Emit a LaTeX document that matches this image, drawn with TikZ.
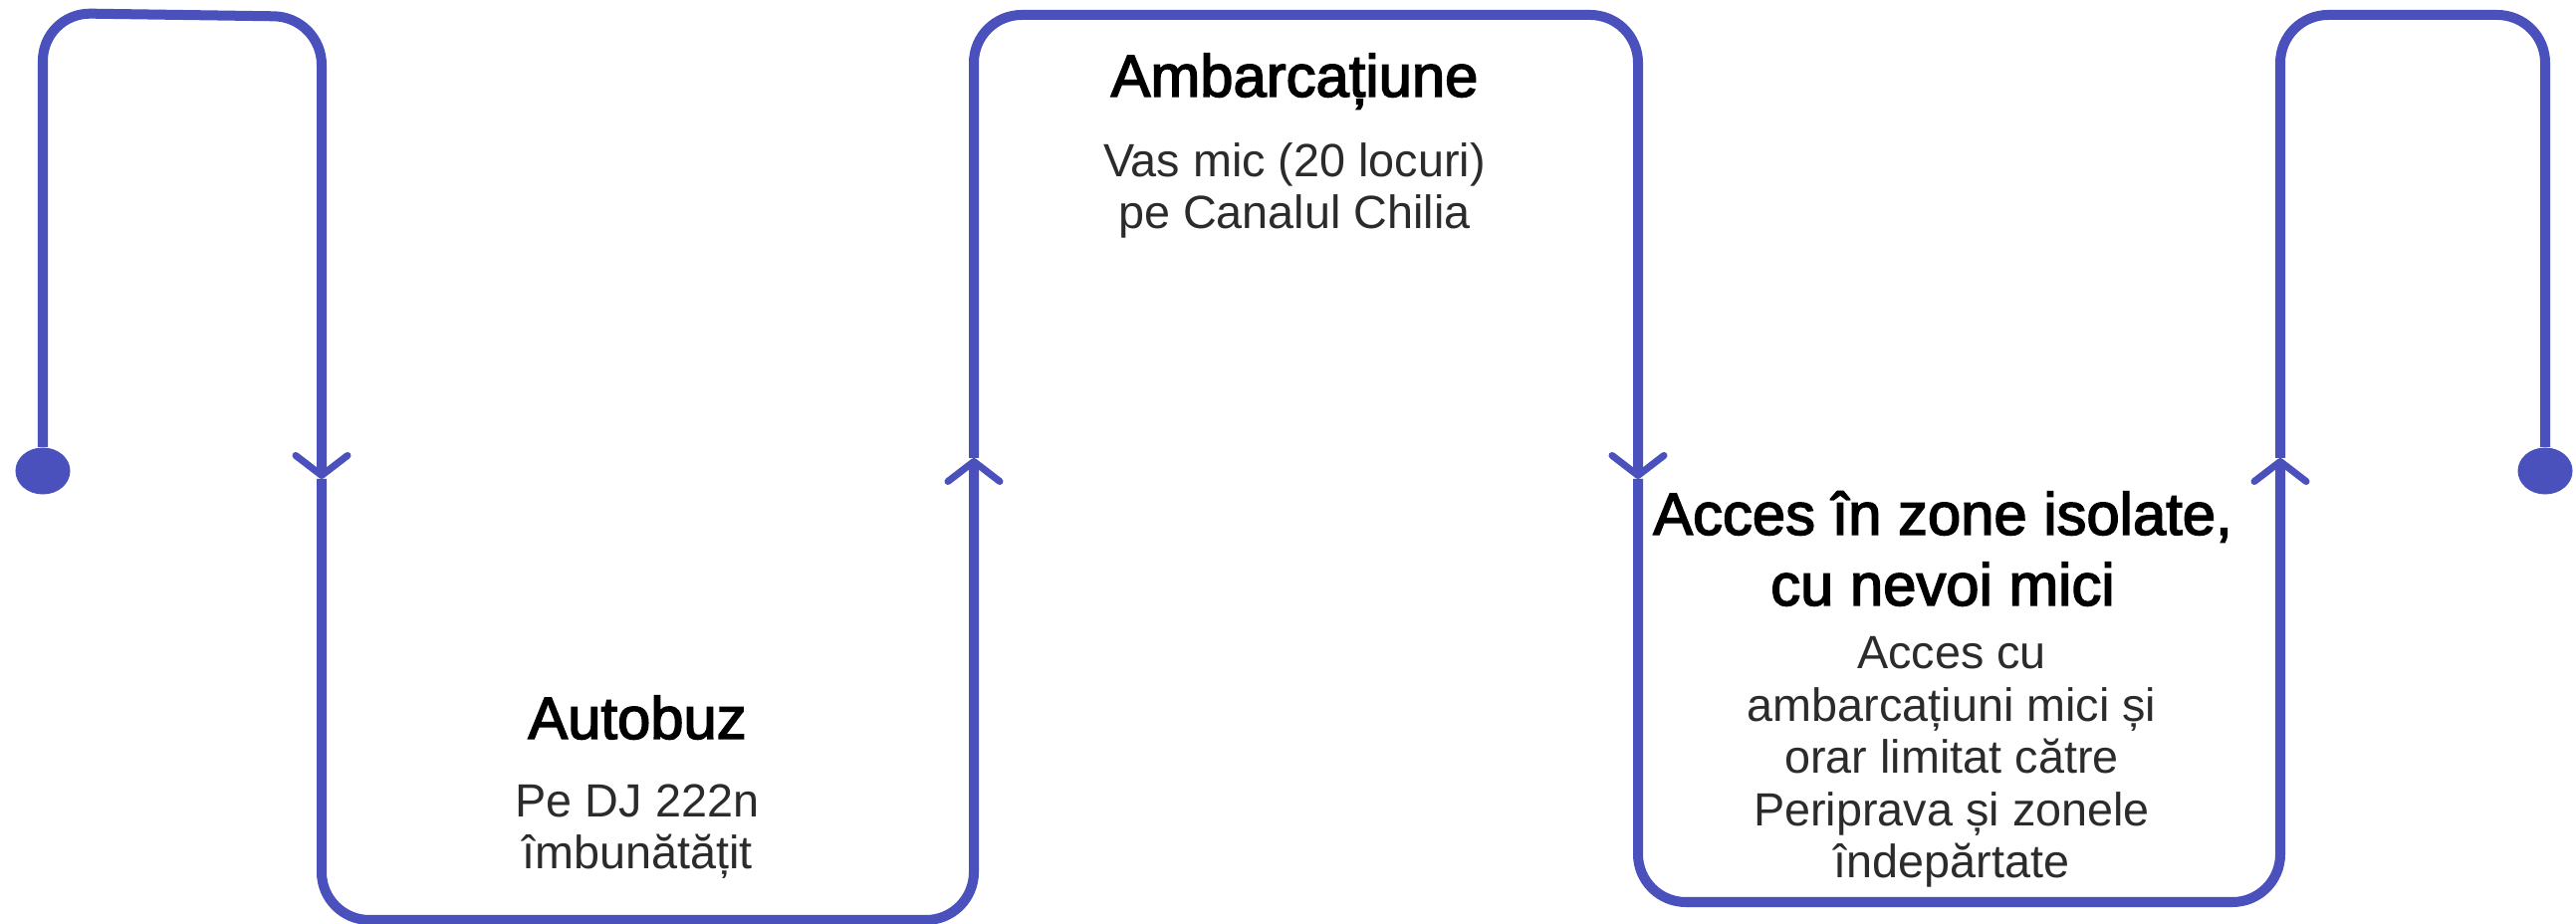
\documentclass[tikz,border=0pt]{standalone}
\usepackage{fontspec}
\setmainfont{Liberation Sans}
\newfontfamily\titlefont[FakeBold=2.5]{Liberation Sans}
\usepackage{tikz}
\usetikzlibrary{arrows.meta, shapes.geometric}
\definecolor{flowblue}{HTML}{4A51BD}
\definecolor{bodygray}{HTML}{2B2B2B}
\newcommand{\routecolor}{flowblue}

\begin{document}
\begin{tikzpicture}[x=0.01cm, y=-0.01cm]
	\tikzstyle{route}=[draw=\routecolor, line width=0.1cm, rounded corners=0.48cm, -{Straight Barb[length=0.2cm, width=0.52cm, line width=0.07cm, round]}]
	\tikzstyle{endpt}=[ellipse, fill=\routecolor, minimum width=0.55cm, minimum height=0.47cm, inner sep=0pt]
	\tikzstyle{headline}=[align=center, anchor=base, inner sep=0pt, font=\titlefont\fontsize{17}{20.2}\selectfont]
	\tikzstyle{detail}=[align=center, anchor=base, inner sep=0pt, text=bodygray, font=\fontsize{13.3}{14.94}\selectfont]
	\useasboundingbox (0,0) rectangle (2587,928);
	\node (start) at (43,473) [endpt]{};
	\node (stop) at (2556,473) [endpt]{};
	\coordinate (d1) at (323,481);
	\coordinate (u1) at (978,460);
	\coordinate (d2) at (1645,481);
	\coordinate (u2) at (2290,460);
	\draw[route] (start) -- (43,13) -- (323,17) -- (d1);
	\draw[route] (d1) -- (323,924) -- (978,924) -- (u1);
	\draw[route] (u1) -- (978,15) -- (1645,15) -- (d2);
	\draw[route] (d2) -- (1645,906) -- (2290,906) -- (u2);
	\draw[route, -] (u2) -- (2290,15) -- (2556,15) -- (stop);
	% labels (base = last line)
	\node (bustitle) at (640,742) [headline]{Autobuz};
	\node (bustext) at (640,873) [detail]{Pe DJ 222n\\îmbunătățit};
	\node (boattitle) at (1300,97) [headline]{Ambarcațiune};
	\node (boattext) at (1300,230) [detail]{Vas mic (20 locuri)\\pe Canalul Chilia};
	\node (accesstitle) at (1951,608) [headline]{Acces în zone isolate,\\cu nevoi mici};
	\node (accesstext) at (1960,882) [detail]{Acces cu\\ambarcațiuni mici și\\orar limitat către\\Periprava și zonele\\îndepărtate};
\end{tikzpicture}
\end{document}
